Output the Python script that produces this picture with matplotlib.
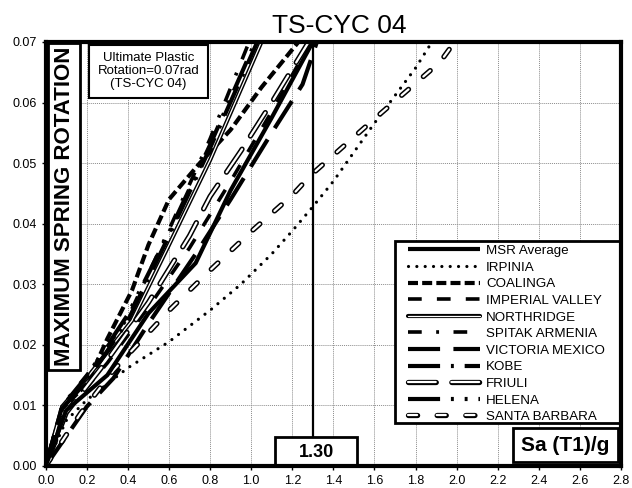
import numpy as np
import matplotlib
matplotlib.use('Agg')
import matplotlib.pyplot as plt
import matplotlib.patheffects as pe
from matplotlib.patches import Rectangle

# ---------------- data ----------------
title = "TS-CYC 04"
rotation_limit = 0.07
msr_sa_at_limit = 1.30

msr_sa = [0, 0.1, 0.3, 0.5, 0.73, 0.9, 1.1, 1.3]
msr_rot = [0, 0.0092, 0.0150, 0.0252, 0.0335, 0.0455, 0.0575, 0.070]

irpinia_sa = [0, 0.1, 0.2, 0.4, 0.6, 0.8, 0.95, 1.1, 1.2, 1.3, 1.4, 1.6, 1.8, 1.88]
irpinia_rot = [0, 0.0075, 0.0109, 0.0162, 0.0205, 0.0257, 0.030, 0.0350, 0.0388, 0.0428, 0.047, 0.0566, 0.0657, 0.070]

coalinga_sa = [0, 0.08, 0.2, 0.3, 0.42, 0.5, 0.6, 0.75, 0.9, 1.05, 1.23]
coalinga_rot = [0, 0.0095, 0.0135, 0.021, 0.029, 0.0365, 0.044, 0.050, 0.0555, 0.0625, 0.070]

imperial_sa = [0, 0.1, 0.3, 0.5, 0.7, 0.9, 1.1, 1.29]
imperial_rot = [0, 0.0090, 0.0170, 0.0262, 0.0360, 0.0470, 0.0585, 0.070]

northridge_sa = [0, 0.08, 0.2, 0.42, 0.6, 0.8, 1.05]
northridge_rot = [0, 0.0098, 0.0145, 0.024, 0.0365, 0.0505, 0.070]

spitak_sa = [0, 0.08, 0.2, 0.4, 0.6, 0.8, 0.99]
spitak_rot = [0, 0.0100, 0.0150, 0.0245, 0.039, 0.054, 0.070]

victoria_sa = [0, 0.2, 0.33, 0.5, 0.73, 0.9, 1.1, 1.25, 1.32]
victoria_rot = [0, 0.0098, 0.0145, 0.0235, 0.035, 0.044, 0.055, 0.063, 0.070]

kobe_sa = [0, 0.08, 0.2, 0.4, 0.6, 0.8, 1.03]
kobe_rot = [0, 0.0095, 0.0140, 0.0240, 0.038, 0.0525, 0.070]

friuli_sa = [0, 0.1, 0.3, 0.5, 0.7, 0.8, 0.95, 1.1, 1.28]
friuli_rot = [0, 0.0088, 0.0175, 0.027, 0.038, 0.0445, 0.052, 0.060, 0.070]

helena_sa = [0, 0.08, 0.2, 0.4, 0.6, 0.8, 1.02]
helena_rot = [0, 0.0098, 0.0148, 0.0250, 0.0385, 0.053, 0.070]

santa_barbara_sa = [0, 0.17, 0.33, 0.61, 0.8, 1.0, 1.2, 1.29, 1.61, 1.92, 1.99]
santa_barbara_rot = [0, 0.0087, 0.0158, 0.026, 0.0323, 0.0387, 0.0447, 0.048, 0.0576, 0.0667, 0.070]

x_ticks = [0.0, 0.2, 0.4, 0.6, 0.8, 1.0, 1.2, 1.4, 1.6, 1.8, 2.0, 2.2, 2.4, 2.6, 2.8]
y_ticks = [0.00, 0.01, 0.02, 0.03, 0.04, 0.05, 0.06, 0.07]

# ---------------- figure ----------------
plt.rcParams['font.family'] = ['Liberation Sans', 'DejaVu Sans']

fig = plt.figure(figsize=(6.32, 4.88), dpi=100)
ax = fig.add_axes([0.0723, 0.0451, 0.9103, 0.8689])

def double(outer):
    return [pe.Stroke(linewidth=outer, foreground='black'), pe.Normal()]

ax.plot(msr_sa, msr_rot, color='black', lw=3.0, solid_capstyle='butt', label='MSR Average', zorder=5)
ax.plot(irpinia_sa, irpinia_rot, color='black', lw=2.3, linestyle=(0, (0.01, 2.6)),
        dash_capstyle='round', label='IRPINIA', zorder=4)
ax.plot(coalinga_sa, coalinga_rot, color='black', lw=3.0, linestyle=(0, (2.4, 1.0)),
        dash_capstyle='butt', label='COALINGA', zorder=4)
ax.plot(imperial_sa, imperial_rot, color='black', lw=2.6, linestyle=(0, (3.8, 4.2)),
        dash_capstyle='butt', label='IMPERIAL VALLEY', zorder=4)
ax.plot(northridge_sa, northridge_rot, color='white', lw=0.9, solid_capstyle='round',
        path_effects=double(3.0), label='NORTHRIDGE', zorder=4)
ax.plot(spitak_sa, spitak_rot, color='black', lw=2.6, linestyle=(0, (3.8, 4.0, 0.8, 4.0)),
        dash_capstyle='butt', label='SPITAK ARMENIA', zorder=4)
ax.plot(victoria_sa, victoria_rot, color='black', lw=3.0, linestyle=(0, (7.7, 3.2)),
        dash_capstyle='butt', label='VICTORIA MEXICO', zorder=4)
ax.plot(kobe_sa, kobe_rot, color='black', lw=3.0, linestyle=(0, (7.7, 2.6, 0.7, 2.6)),
        dash_capstyle='butt', label='KOBE', zorder=4)
ax.plot(friuli_sa, friuli_rot, color='white', lw=1.6, linestyle=(0, (12.5, 7.0)),
        dash_capstyle='round', path_effects=double(3.8), label='FRIULI', zorder=4)
ax.plot(helena_sa, helena_rot, color='black', lw=3.0, linestyle=(0, (7.7, 2.6, 0.7, 2.6, 0.7, 2.6)),
        dash_capstyle='butt', label='HELENA', zorder=4)
ax.plot(santa_barbara_sa, santa_barbara_rot, color='white', lw=1.6, linestyle=(0, (4.1, 8.8)),
        dash_capstyle='round', path_effects=double(3.8), label='SANTA BARBARA', zorder=4)

# vertical marker line at MSR average reaching the limit
ax.axvline(msr_sa_at_limit, color='black', lw=1.6, zorder=6)

ax.set_xlim(x_ticks[0], x_ticks[-1])
ax.set_ylim(y_ticks[0], y_ticks[-1])
ax.set_xticks(x_ticks)
ax.set_xticklabels([f"{v:.1f}" for v in x_ticks])
ax.set_yticks(y_ticks)
ax.set_yticklabels([f"{v:.2f}" for v in y_ticks])
ax.tick_params(labelsize=9, length=3, width=1, colors='black')
ax.grid(True, color='#8c8c8c', linestyle=(0, (1, 1)), lw=0.7, zorder=0)
ax.set_axisbelow(True)
for s in ax.spines.values():
    s.set_linewidth(3)
    s.set_zorder(10)

# title
ax.text(0.511, 1 + 9 / 424, title, transform=ax.transAxes, ha='center', va='baseline', fontsize=19)

# boxes
def box(x0, y0, x1, y1, lw, z=8):
    r = Rectangle((x0, y0), x1 - x0, y1 - y0, transform=ax.transAxes, facecolor='white',
                  edgecolor='black', lw=lw, zorder=z, clip_on=False)
    ax.add_patch(r)

box(0.004, 0.226, 0.0596, 0.998, 2.0)
ax.text(0.032, 0.613, 'MAXIMUM SPRING ROTATION', rotation=90, transform=ax.transAxes,
        ha='center', va='center', fontsize=16, fontweight='bold', zorder=9)

box(0.0753, 0.868, 0.2822, 0.993, 1.5)
ax.text(0.1787, 0.9316, f'Ultimate Plastic\nRotation={rotation_limit:.2f}rad\n({title})',
        transform=ax.transAxes, ha='center', va='center', fontsize=9.5, linespacing=1.15, zorder=9)

box(0.3986, 0.0, 0.541, 0.068, 2.0)
ax.text(0.47, 0.032, f'{msr_sa_at_limit:.2f}', transform=ax.transAxes, ha='center', va='center',
        fontsize=13, fontweight='bold', zorder=9)

box(0.812, 0.0094, 0.995, 0.0896, 2.0)
ax.text(0.9035, 0.048, 'Sa (T1)/g', transform=ax.transAxes, ha='center', va='center',
        fontsize=15, fontweight='bold', zorder=9)

# legend frame drawn as a box, legend entries placed inside it
box(0.607, 0.1014, 0.998, 0.5307, 2.0, z=8.5)
leg = ax.legend(loc='upper left', bbox_to_anchor=(0.630, 0.5217), borderaxespad=0,
                fontsize=9.6, handlelength=5.4, handletextpad=0.45, labelspacing=0.32,
                borderpad=0, frameon=False)
leg.set_zorder(9)

fig.savefig('out.png', dpi=100)
